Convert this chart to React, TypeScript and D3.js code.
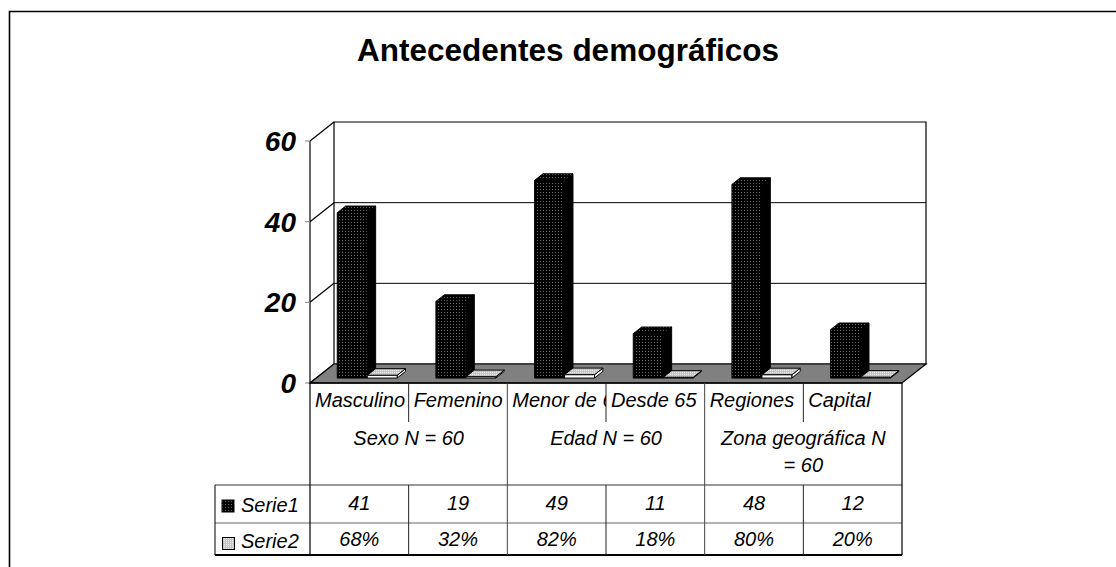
import React, { useEffect, useRef } from "react";
import * as d3 from "d3";

const title = "Antecedentes demográficos";
const categories = ["Masculino", "Femenino", "Menor de 65", "Desde 65", "Regiones", "Capital"];
const groupLabels = [["Sexo N = 60"], ["Edad N = 60"], ["Zona geográfica N", "= 60"]];
const seriesNames = ["Serie1", "Serie2"];
const serie1 = [41, 19, 49, 11, 48, 12];
const serie2 = [0.68, 0.32, 0.82, 0.18, 0.8, 0.2];
const yTicks = [0, 20, 40, 60];

const W = 1116;
const H = 567;
const FONT = "'Liberation Sans', Arial, sans-serif";

export default function App() {
  const ref = useRef<SVGSVGElement>(null);

  useEffect(() => {
    const svg = d3.select(ref.current);
    svg.selectAll("*").remove();

    // 3d box: front plane + depth offset
    const depthX = 24;
    const depthY = -19;
    const x = d3.scaleBand().domain(categories).range([310, 902]).padding(0);
    const y = d3.scaleLinear().domain([0, 60]).range([383, 141]);
    const px = (xv: number, z: number) => xv + depthX * z;
    const py = (v: number, z: number) => y(v) + depthY * z;
    const pt = (xv: number, v: number, z: number) => [px(xv, z), py(v, z)].join(",");

    const defs = svg.append("defs");
    const dark = defs.append("pattern").attr("id", "dark").attr("width", 3).attr("height", 3)
      .attr("patternUnits", "userSpaceOnUse");
    dark.append("rect").attr("width", 3).attr("height", 3).attr("fill", "#000");
    dark.append("rect").attr("width", 1).attr("height", 1).attr("fill", "#6a6a6a");
    const light = defs.append("pattern").attr("id", "light").attr("width", 2).attr("height", 2)
      .attr("patternUnits", "userSpaceOnUse");
    light.append("rect").attr("width", 2).attr("height", 2).attr("fill", "#c4c4c4");
    light.append("rect").attr("width", 1).attr("height", 1).attr("fill", "#ececec");

    categories.forEach((c, i) => {
      defs.append("clipPath").attr("id", "clip" + i)
        .append("rect").attr("x", x(c)!).attr("y", 383).attr("width", x.bandwidth()).attr("height", 40);
    });

    // outer frame
    svg.append("path").attr("d", `M9.5,${H} V11.5 H${W}`).attr("fill", "none")
      .attr("stroke", "#000").attr("stroke-width", 1.6);

    svg.append("text").attr("x", 568).attr("y", 61).attr("text-anchor", "middle")
      .attr("font-family", FONT).attr("font-weight", "bold").attr("font-size", 31.5).text(title);

    const [x0, x1] = x.range();

    // back wall
    svg.append("polygon")
      .attr("points", [pt(x0, 0, 1), pt(x1, 0, 1), pt(x1, 60, 1), pt(x0, 60, 1)].join(" "))
      .attr("fill", "#fff").attr("stroke", "#000").attr("stroke-width", 1.2);
    yTicks.filter(t => t > 0 && t < 60).forEach(t => {
      svg.append("line").attr("x1", px(x0, 1)).attr("x2", px(x1, 1))
        .attr("y1", py(t, 1)).attr("y2", py(t, 1)).attr("stroke", "#000").attr("stroke-width", 1);
    });

    // left wall lines
    svg.append("line").attr("x1", x0).attr("x2", x0).attr("y1", y(60)).attr("y2", y(0))
      .attr("stroke", "#000").attr("stroke-width", 1.2);
    yTicks.forEach(t => {
      svg.append("line").attr("x1", x0).attr("y1", y(t)).attr("x2", px(x0, 1)).attr("y2", py(t, 1))
        .attr("stroke", "#000").attr("stroke-width", 1.2);
      svg.append("line").attr("x1", x0 - 5).attr("x2", x0).attr("y1", y(t)).attr("y2", y(t))
        .attr("stroke", "#808080").attr("stroke-width", 1);
      svg.append("text").attr("x", 296).attr("y", y(t) + 10).attr("text-anchor", "end")
        .attr("font-family", FONT).attr("font-weight", "bold").attr("font-style", "italic")
        .attr("font-size", 28).text(t);
    });

    // floor
    svg.append("polygon")
      .attr("points", [pt(x0, 0, 0), pt(x1, 0, 0), pt(x1, 0, 1), pt(x0, 0, 1)].join(" "))
      .attr("fill", "#808080").attr("stroke", "#000").attr("stroke-width", 1.2);

    // bars
    const bw = x.bandwidth();
    const z0 = 0.26;
    const z1 = 0.61;
    const drawBar = (bx0: number, bx1: number, v: number, front: string, top: string, side: string) => {
      const g = svg.append("g").attr("stroke", "#000").attr("stroke-width", 1).attr("stroke-linejoin", "round");
      g.append("polygon").attr("points", [pt(bx1, 0, z0), pt(bx1, 0, z1), pt(bx1, v, z1), pt(bx1, v, z0)].join(" "))
        .attr("fill", side);
      g.append("polygon").attr("points", [pt(bx0, v, z0), pt(bx1, v, z0), pt(bx1, v, z1), pt(bx0, v, z1)].join(" "))
        .attr("fill", top);
      g.append("polygon").attr("points", [pt(bx0, 0, z0), pt(bx1, 0, z0), pt(bx1, v, z0), pt(bx0, v, z0)].join(" "))
        .attr("fill", front);
    };
    categories.forEach((c, i) => {
      const cx = x(c)!;
      drawBar(cx + bw * 0.213, cx + bw * 0.517, serie1[i], "url(#dark)", "url(#dark)", "#000");
      drawBar(cx + bw * 0.517, cx + bw * 0.82, serie2[i], "#fff", "url(#light)", "#fff");
    });

    // data table
    const line = (ax: number, ay: number, bx: number, by: number, color = "#000", w = 1) =>
      svg.append("line").attr("x1", ax).attr("y1", ay).attr("x2", bx).attr("y2", by)
        .attr("stroke", color).attr("stroke-width", w);

    const legX = 215;
    const rowTop = 485;
    const rowMid = 523;
    const rowBot = 555;
    line(x0, 383, x1, 383, "#000", 1.5);
    line(legX, rowTop, x1, rowTop, "#333");
    line(legX, rowMid, x1, rowMid, "#666");
    line(legX, rowBot, x1, rowBot, "#000", 2);
    line(legX, rowTop, legX, rowBot, "#000");
    line(x0, 383, x0, rowBot, "#000", 1.2);
    line(x1, 383, x1, rowBot, "#000", 1.2);
    categories.forEach((c, i) => {
      if (i === 0) return;
      const cx = x(c)!;
      if (i % 2 === 0) {
        line(cx, 383, cx, rowBot, "#444");
      } else {
        line(cx, 383, cx, 422, "#222");
        line(cx, rowTop, cx, rowBot, "#222");
      }
    });

    const txt = (tx: number, ty: number, s: string, anchor = "middle") =>
      svg.append("text").attr("x", tx).attr("y", ty).attr("text-anchor", anchor)
        .attr("font-family", FONT).attr("font-style", "italic").attr("font-size", 20).text(s);

    categories.forEach((c, i) => {
      txt(x(c)! + 5, 407, c, "start").attr("clip-path", `url(#clip${i})`);
      txt(x(c)! + bw / 2, 510, String(serie1[i]));
      txt(x(c)! + bw / 2, 546, d3.format(".0%")(serie2[i]));
    });
    groupLabels.forEach((lines, gi) => {
      const gx = x(categories[gi * 2])! + bw;
      lines.forEach((l, li) => txt(gx, 445 + li * 27, l));
    });

    // legend keys
    svg.append("rect").attr("x", 222).attr("y", 500).attr("width", 12).attr("height", 12)
      .attr("fill", "url(#dark)").attr("stroke", "#000");
    svg.append("rect").attr("x", 222.5).attr("y", 537.5).attr("width", 12).attr("height", 12)
      .attr("fill", "url(#light)").attr("stroke", "#000");
    txt(241, 512, seriesNames[0], "start");
    txt(241, 548, seriesNames[1], "start");
  }, []);

  return (
    <div style={{ position: "absolute", left: 0, top: 0, width: W, height: H, background: "#fff" }}>
      <svg ref={ref} width={W} height={H} />
    </div>
  );
}
